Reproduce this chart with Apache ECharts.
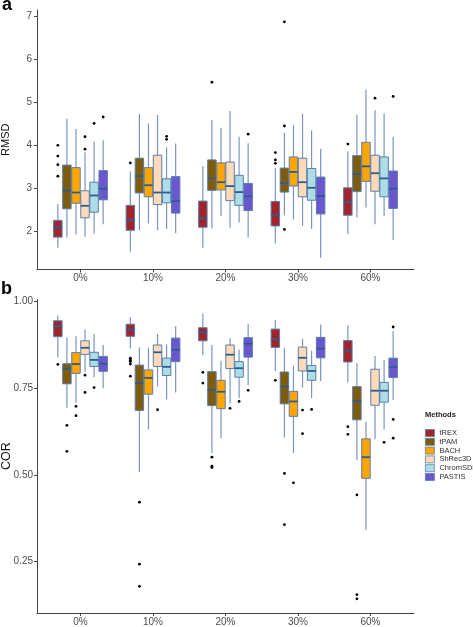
<!DOCTYPE html>
<html><head><meta charset="utf-8">
<script src="https://cdn.jsdelivr.net/npm/echarts@6/dist/echarts.min.js"></script>
<style>html,body{margin:0;padding:0;background:#fff}#c{width:473px;height:627px}</style>
</head><body><div id="c"></div>
<script>
const groups = ['0%','10%','20%','30%','60%'];
const methods = ['tREX','tPAM','BACH','ShRec3D','ChromSDE','PASTIS'];
const fills = ['#A3252B','#7E5C0E','#FFA500','#FFDAB9','#ADDDE6','#6A56CF'];

// Panel a: RMSD, per group: [low whisker, q1, median, q3, high whisker]
const rmsd_tREX     = [[1.61,1.86,2.09,2.25,2.63],[1.52,2.02,2.25,2.60,3.39],[1.61,2.09,2.30,2.70,3.52],[1.71,2.12,2.38,2.69,3.47],[1.93,2.37,2.68,3.01,3.86]];
const rmsd_tPAM     = [[1.85,2.52,2.95,3.54,4.62],[2.02,2.89,3.28,3.70,4.73],[2.06,2.95,3.23,3.66,4.59],[2.37,2.91,3.12,3.47,4.29],[2.32,2.92,3.33,3.76,4.71]];
const rmsd_BACH     = [[1.92,2.65,2.90,3.48,4.38],[2.18,2.80,3.07,3.48,4.51],[2.35,2.96,3.14,3.59,4.41],[2.27,3.05,3.38,3.73,4.47],[2.55,3.16,3.51,4.07,5.30]];
const rmsd_ShRec3D  = [[1.87,2.31,2.59,2.94,3.84],[2.02,2.62,2.90,3.77,4.71],[2.08,2.71,3.05,3.61,4.80],[2.12,2.80,3.14,3.70,4.74],[2.16,2.93,3.35,3.77,4.82]];
const rmsd_ChromSDE = [[1.94,2.44,2.83,3.14,4.09],[2.05,2.66,2.90,3.22,3.95],[2.20,2.60,2.91,3.30,4.20],[2.05,2.72,3.01,3.46,4.35],[2.36,2.80,3.23,3.73,4.74]];
const rmsd_PASTIS   = [[2.16,2.73,2.99,3.41,4.12],[1.95,2.42,2.70,3.27,4.04],[1.85,2.48,2.81,3.11,4.05],[1.38,2.40,2.82,3.26,3.92],[1.79,2.53,2.99,3.40,4.20]];
// RMSD outliers per group
const rmsdOut_tREX     = [[4.00,3.75,3.55,3.28],[3.59],[],[3.83,3.66,3.58],[4.03]];
const rmsdOut_tPAM     = [[],[],[5.47],[6.88,4.45,2.04],[]];
const rmsdOut_BACH     = [[],[],[],[],[]];
const rmsdOut_ShRec3D  = [[3.91,4.20],[],[],[],[5.10]];
const rmsdOut_ChromSDE = [[4.51],[4.21,4.14],[],[],[]];
const rmsdOut_PASTIS   = [[4.66],[],[4.26],[],[5.14]];

// Panel b: COR
const cor_tREX     = [[0.839,0.899,0.929,0.945,0.960],[0.865,0.900,0.920,0.935,0.955],[0.846,0.887,0.912,0.925,0.966],[0.800,0.868,0.892,0.921,0.947],[0.767,0.826,0.859,0.888,0.932]];
const cor_tPAM     = [[0.694,0.763,0.807,0.821,0.896],[0.508,0.686,0.765,0.817,0.868],[0.563,0.700,0.745,0.798,0.875],[0.608,0.705,0.755,0.797,0.866],[0.542,0.659,0.713,0.755,0.822]];
const cor_BACH     = [[0.708,0.793,0.820,0.853,0.900],[0.631,0.733,0.780,0.803,0.867],[0.606,0.691,0.740,0.773,0.829],[0.563,0.669,0.712,0.741,0.815],[0.341,0.490,0.551,0.604,0.653]];
const cor_ShRec3D  = [[0.798,0.848,0.867,0.887,0.920],[0.755,0.813,0.854,0.875,0.907],[0.706,0.807,0.847,0.875,0.895],[0.752,0.800,0.838,0.869,0.893],[0.603,0.701,0.743,0.805,0.843]];
const cor_ChromSDE = [[0.782,0.813,0.832,0.854,0.907],[0.718,0.787,0.812,0.837,0.877],[0.722,0.782,0.808,0.827,0.862],[0.722,0.773,0.800,0.816,0.858],[0.631,0.710,0.743,0.767,0.832]];
const cor_PASTIS   = [[0.750,0.799,0.821,0.842,0.875],[0.738,0.827,0.861,0.895,0.929],[0.759,0.840,0.879,0.896,0.936],[0.771,0.838,0.865,0.897,0.934],[0.716,0.781,0.811,0.837,0.915]];
const corOut_tREX     = [[0.819],[0.837,0.831,0.827,0.820,0.785],[0.796,0.765],[0.773],[0.639,0.617]];
const corOut_tPAM     = [[0.643,0.568],[0.421,0.242,0.178],[0.551,0.525,0.521],[0.504,0.356],[0.442,0.154,0.142]];
const corOut_BACH     = [[0.698,0.671],[],[],[0.477],[]];
const corOut_ShRec3D  = [[0.788,0.738],[0.688],[0.692],[0.687,0.619],[]];
const corOut_ChromSDE = [[0.752],[],[0.712],[0.689],[0.594]];
const corOut_PASTIS   = [[],[],[0.744],[],[0.927,0.660,0.606]];

const rmsdStats = [rmsd_tREX,rmsd_tPAM,rmsd_BACH,rmsd_ShRec3D,rmsd_ChromSDE,rmsd_PASTIS];
const rmsdOuts  = [rmsdOut_tREX,rmsdOut_tPAM,rmsdOut_BACH,rmsdOut_ShRec3D,rmsdOut_ChromSDE,rmsdOut_PASTIS];
const corStats  = [cor_tREX,cor_tPAM,cor_BACH,cor_ShRec3D,cor_ChromSDE,cor_PASTIS];
const corOuts   = [corOut_tREX,corOut_tPAM,corOut_BACH,corOut_ShRec3D,corOut_ChromSDE,corOut_PASTIS];

const rmsdTicks = [2,3,4,5,6,7];
const corTicks = [0.25,0.50,0.75,1.00];
const catPos = [1,2,3,4,5];

const DODGE = 0.75, NM = methods.length, BW = DODGE / NM;
const WHISK = '#7896c0', BORDER = '#5a7dab', MED = '#2d5d8e';
const FONT = 'Liberation Sans, Arial, sans-serif';

function boxRender(mi) {
  return function (params, api) {
    const g = api.value(0);
    const x = g + 1 + (mi - (NM - 1) / 2) * BW;
    const lo = api.coord([x, api.value(1)]);
    const q1 = api.coord([x, api.value(2)]);
    const md = api.coord([x, api.value(3)]);
    const q3 = api.coord([x, api.value(4)]);
    const hi = api.coord([x, api.value(5)]);
    const w = api.size([BW, 0])[0];
    const hw = w / 2 - 0.3;
    const cx = lo[0];
    return { type: 'group', children: [
      { type: 'line', shape: { x1: cx, y1: q1[1], x2: cx, y2: lo[1] }, style: { stroke: WHISK, lineWidth: 1.2 } },
      { type: 'line', shape: { x1: cx, y1: q3[1], x2: cx, y2: hi[1] }, style: { stroke: WHISK, lineWidth: 1.2 } },
      { type: 'rect', shape: { x: cx - hw, y: q3[1], width: 2 * hw, height: q1[1] - q3[1] },
        style: { fill: fills[mi], stroke: BORDER, lineWidth: 1 } },
      { type: 'line', shape: { x1: cx - hw, y1: md[1], x2: cx + hw, y2: md[1] }, style: { stroke: MED, lineWidth: 1.8 } }
    ]};
  };
}
function outRender(mi) {
  return function (params, api) {
    const g = api.value(0);
    const x = g + 1 + (mi - (NM - 1) / 2) * BW;
    const p = api.coord([x, api.value(1)]);
    return { type: 'circle', shape: { cx: p[0], cy: p[1], r: 1.4 }, style: { fill: '#000' } };
  };
}

const series = [];
function addPanel(stats, outs, gi) {
  methods.forEach((m, mi) => {
    series.push({
      type: 'custom', name: m, xAxisIndex: gi, yAxisIndex: gi,
      itemStyle: { color: fills[mi] },
      renderItem: boxRender(mi),
      encode: { x: 0, y: [1, 2, 3, 4, 5] },
      data: stats[mi].map((s, g) => [g].concat(s)),
      z: 2
    });
    const od = [];
    outs[mi].forEach((arr, g) => arr.forEach(v => od.push([g, v])));
    series.push({
      type: 'custom', name: m, xAxisIndex: gi, yAxisIndex: gi,
      itemStyle: { color: fills[mi] },
      renderItem: outRender(mi),
      encode: { x: 0, y: 1 },
      data: od, z: 3
    });
  });
}
addPanel(rmsdStats, rmsdOuts, 0);
addPanel(corStats, corOuts, 1);

const axisCommon = {
  axisLine: { show: true, lineStyle: { color: '#444', width: 1 } },
  axisTick: { show: true, length: 3, lineStyle: { color: '#444' } },
  splitLine: { show: false },
  axisLabel: { color: '#4d4d4d', fontSize: 10, fontFamily: FONT }
};
function xAx(gi) {
  return Object.assign({}, axisCommon, {
    type: 'value', gridIndex: gi, min: 0.4, max: 5.6,
    axisTick: Object.assign({}, axisCommon.axisTick, { customValues: catPos }),
    axisLabel: Object.assign({}, axisCommon.axisLabel, { customValues: catPos, margin: 4,
      formatter: v => groups[Math.round(v) - 1] })
  });
}

const option = {
  animation: false,
  title: [
    { text: 'a', left: 2, top: -4, padding: 0, textStyle: { fontSize: 18, fontWeight: 'bold', color: '#000', fontFamily: FONT } },
    { text: 'b', left: 1, top: 280, padding: 0, textStyle: { fontSize: 18, fontWeight: 'bold', color: '#000', fontFamily: FONT } },
    { text: 'Methods', left: 425, top: 411, padding: 0, textStyle: { fontSize: 7.5, fontWeight: 'bold', color: '#222', fontFamily: FONT } }
  ],
  legend: {
    orient: 'vertical', left: 425, top: 429, padding: 0,
    data: methods.map((m, i) => ({ name: m, itemStyle: { color: fills[i], borderColor: BORDER, borderWidth: 0.8 } })),
    icon: 'rect', itemWidth: 9, itemHeight: 7, itemGap: 0.8,
    textStyle: { fontSize: 7.5, lineHeight: 7, color: '#333', fontFamily: FONT },
    selectedMode: false
  },
  grid: [
    { left: 37, top: 10, width: 377, height: 259.5, containLabel: false, outerBoundsMode: 'none' },
    { left: 37, top: 299.3, width: 377, height: 313.7, containLabel: false, outerBoundsMode: 'none' }
  ],
  xAxis: [xAx(0), xAx(1)],
  yAxis: [
    Object.assign({}, axisCommon, {
      type: 'value', gridIndex: 0, min: 1.105, max: 7.155,
      name: 'RMSD', nameLocation: 'middle', nameGap: 26, nameMoveOverlap: false,
      nameTextStyle: { fontSize: 11, color: '#111', fontFamily: FONT },
      axisTick: Object.assign({}, axisCommon.axisTick, { customValues: rmsdTicks }),
      axisLabel: Object.assign({}, axisCommon.axisLabel, { customValues: rmsdTicks, margin: 5, formatter: v => String(Math.round(v)) })
    }),
    Object.assign({}, axisCommon, {
      type: 'value', gridIndex: 1, min: 0.101, max: 1.007,
      name: 'COR', nameLocation: 'middle', nameGap: 24, nameMoveOverlap: false,
      nameTextStyle: { fontSize: 12.5, color: '#111', fontFamily: FONT },
      axisTick: Object.assign({}, axisCommon.axisTick, { customValues: corTicks }),
      axisLabel: Object.assign({}, axisCommon.axisLabel, { customValues: corTicks, margin: 4, formatter: v => v.toFixed(2) })
    })
  ],
  series: series
};
const chart = echarts.init(document.getElementById('c'), null, { renderer: 'canvas' });
chart.setOption(option);
</script></body></html>
